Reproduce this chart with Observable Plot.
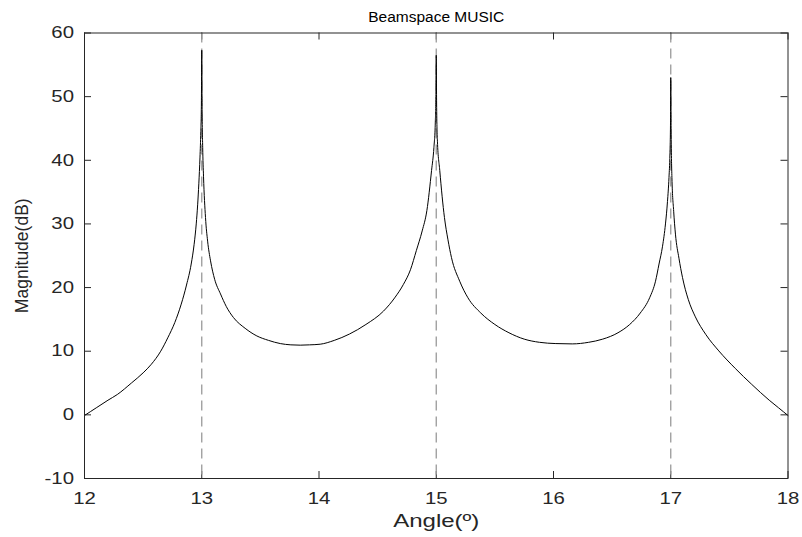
<!DOCTYPE html>
<html>
<head>
<meta charset="utf-8">
<script src="https://cdn.jsdelivr.net/npm/d3@7"></script>
<script src="https://cdn.jsdelivr.net/npm/@observablehq/plot@0.6"></script>
<style>
  html, body { margin: 0; padding: 0; background: #fff; }
  #chart svg { display: block; }
</style>
</head>
<body>
<div id="chart"></div>
<script>
// Spectrum samples
const angles = [
  12.00, 12.10, 12.20, 12.28, 12.40, 12.50, 12.57, 12.65, 12.71, 12.77, 12.825, 12.87, 12.91, 12.935, 12.953, 12.965, 12.975, 12.985, 12.992, 12.997, 13.00,
  13.003, 13.008, 13.015, 13.032, 13.05, 13.075, 13.11, 13.16, 13.21, 13.27, 13.37, 13.47, 13.57, 13.67, 13.76, 13.84, 13.92, 14.01, 14.13, 14.26, 14.40, 14.55, 14.65, 14.72, 14.78, 14.83, 14.88, 14.92, 14.96, 14.98, 14.992, 14.997, 15.00,
  15.003, 15.01, 15.03, 15.07, 15.10, 15.13, 15.20, 15.27, 15.38, 15.50, 15.62, 15.75, 15.88, 16.02, 16.16, 16.30, 16.42, 16.55, 16.65, 16.74, 16.82, 16.87, 16.90, 16.93, 16.955, 16.972, 16.985, 16.993, 16.998, 17.00,
  17.003, 17.01, 17.025, 17.04, 17.07, 17.10, 17.15, 17.21, 17.30, 17.41, 17.55, 17.69, 17.84, 17.92, 18.00
];
const magnitudes = [
  -0.1, 1.1, 2.3, 3.2, 5.0, 6.6, 7.95, 10.0, 12.1, 14.5, 17.4, 20.4, 23.7, 26.8, 30.0, 33.0, 36.3, 40.5, 44.5, 49.0, 57.3,
  48.0, 42.0, 37.5, 31.0, 27.3, 24.2, 21.3, 19.0, 17.0, 15.3, 13.6, 12.4, 11.7, 11.2, 11.0, 10.95, 11.0, 11.1, 11.7, 12.7, 14.2, 16.3, 18.5, 20.5, 22.8, 25.8, 28.9, 32.1, 38.4, 42.0, 46.0, 50.0, 56.5,
  49.0, 43.0, 38.4, 31.0, 27.5, 24.7, 21.0, 18.4, 16.0, 14.2, 12.9, 11.9, 11.4, 11.2, 11.15, 11.4, 11.9, 12.9, 14.2, 16.0, 18.4, 21.0, 23.7, 26.5, 30.0, 33.5, 37.3, 41.0, 46.0, 53.0,
  45.0, 37.3, 32.0, 28.4, 24.6, 21.6, 18.1, 15.4, 12.6, 10.05, 7.3, 4.8, 2.3, 1.1, -0.1
];
const sourceAngles = [13, 15, 17];
const xTicks = [12, 13, 14, 15, 16, 17, 18];
const yTicks = [-10, 0, 10, 20, 30, 40, 50, 60];
const xDomain = [12, 18];
const yDomain = [-10, 60];
const titleText = "Beamspace MUSIC";
const xLabel = "Angle(º)";
const yLabel = "Magnitude(dB)";

const data = angles.map((a, i) => ({angle: a, mag: magnitudes[i]}));

const W = 802, H = 537;
const mL = 84, mR = 14.5, mT = 32.5, mB = 59;
const innerW = W - mL - mR, innerH = H - mT - mB;
const tickPx = 7;
const yTickLen = tickPx * (yDomain[1] - yDomain[0]) / innerH;
const xTickLen = tickPx * (xDomain[1] - xDomain[0]) / innerW;
const axisColor = "#262626";
const font = "'Liberation Sans', Arial, Helvetica, sans-serif";
const fmt = d => String(d);

const chart = Plot.plot({
  width: W,
  height: H,
  marginLeft: mL,
  marginRight: mR,
  marginTop: mT,
  marginBottom: mB,
  style: {fontFamily: font, fontSize: "16px", color: axisColor, background: "#fff"},
  x: {domain: xDomain},
  y: {domain: yDomain},
  marks: [
    Plot.axisX(xTicks, {anchor: "bottom", tickSize: 0, tickPadding: 13.5, label: null, fontSize: 16.3, fill: axisColor, tickFormat: fmt}),
    Plot.axisY(yTicks, {anchor: "left", tickSize: 0, tickPadding: 10.5, label: null, fontSize: 16.3, fill: axisColor, tickFormat: fmt}),
    // inward ticks on all four sides
    Plot.ruleX(xTicks, {x: d => d, y1: yDomain[0], y2: yDomain[0] + yTickLen, stroke: axisColor, strokeWidth: 1}),
    Plot.ruleX(xTicks, {x: d => d, y1: yDomain[1], y2: yDomain[1] - yTickLen, stroke: axisColor, strokeWidth: 1}),
    Plot.ruleY(yTicks, {y: d => d, x1: xDomain[0], x2: xDomain[0] + xTickLen, stroke: axisColor, strokeWidth: 1}),
    Plot.ruleY(yTicks, {y: d => d, x1: xDomain[1], x2: xDomain[1] - xTickLen, stroke: axisColor, strokeWidth: 1}),
    // dashed source lines
    Plot.ruleX(sourceAngles, {x: d => d, stroke: "#9a9a9a", strokeWidth: 1.3, strokeDasharray: "10,6"}),
    // spectrum
    Plot.line(data, {x: "angle", y: "mag", stroke: "#000", strokeWidth: 1, curve: "monotone-x"}),
    Plot.frame({stroke: axisColor, strokeWidth: 1}),
    // title and axis labels
    Plot.text([titleText], {frameAnchor: "top", dy: -15.5, text: d => d, fontSize: 15.5, fill: "#000", lineAnchor: "middle", textAnchor: "middle"}),
    Plot.text([xLabel], {frameAnchor: "bottom", dy: 43, text: d => d, fontSize: 18.5, fill: axisColor, lineAnchor: "middle", textAnchor: "middle"}),
    Plot.text([yLabel], {frameAnchor: "left", dx: -62, rotate: -90, text: d => d, fontSize: 17.5, fill: axisColor, lineAnchor: "middle", textAnchor: "middle"})
  ]
});

// The reference's lettering is drawn horizontally widened; mimic it with a horizontal scale
function widenEl(el, s) {
  const t = el.getAttribute("transform") || "";
  if (t.includes("rotate(")) return;
  const x = +el.getAttribute("x") || 0;
  el.setAttribute("transform", `${t} translate(${x},0) scale(${s},1) translate(${-x},0)`.trim());
}
d3.select(chart).selectAll("g[aria-label='x-axis tick label'] text").each(function () { widenEl(this, 1.25); });
d3.select(chart).selectAll("g[aria-label='y-axis tick label'] text").each(function () { widenEl(this, 1.25); });
d3.select(chart).selectAll("text").filter(function () { return this.textContent === xLabel; }).each(function () { widenEl(this, 1.3); });

document.getElementById("chart").appendChild(chart);
</script>
</body>
</html>
